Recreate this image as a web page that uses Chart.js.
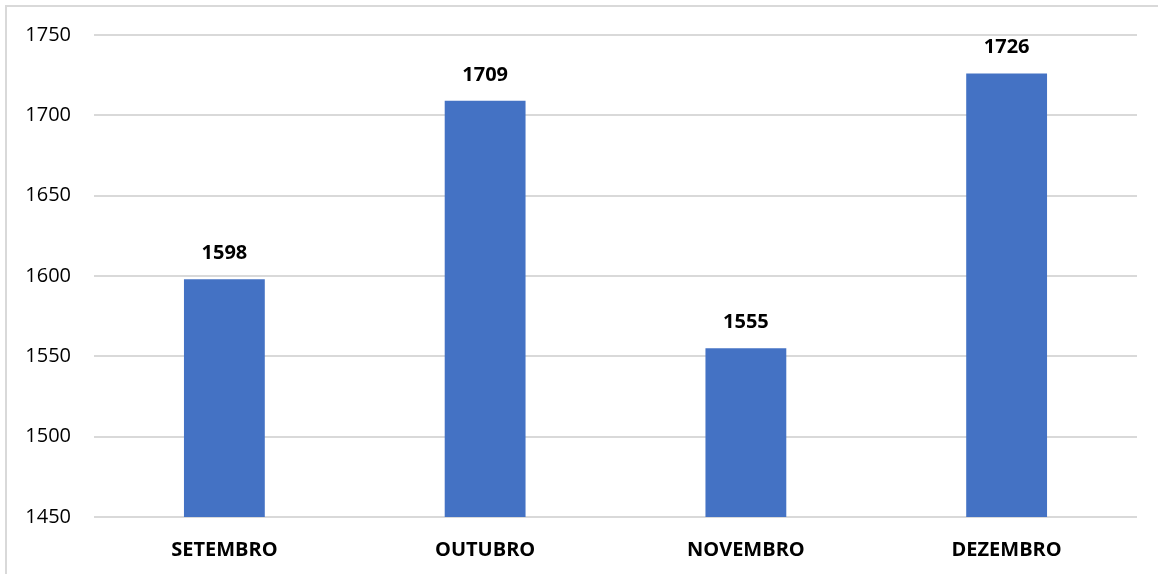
<!DOCTYPE html>
<html>
<head>
<meta charset="utf-8">
<script src="https://cdn.jsdelivr.net/npm/chart.js@4"></script>
<style>
  html, body { margin: 0; padding: 0; background: #fff; }
  #wrap { position: relative; width: 1158px; height: 574px; }
  #frame { position: absolute; left: 5px; top: 5px; width: 1160px; height: 580px;
           border-left: 2px solid #d9d9d9; border-top: 2px solid #d9d9d9; }
  canvas { position: absolute; left: 0; top: 0; }
</style>
</head>
<body>
<div id="wrap">
  <div id="frame"></div>
  <canvas id="barChart" width="1158" height="574"></canvas>
</div>
<script>
const months = ["SETEMBRO", "OUTUBRO", "NOVEMBRO", "DEZEMBRO"];
const totals = [1598, 1709, 1555, 1726];
const yMin = 1450;
const yMax = 1750;
const yStep = 50;

// labels drawn above each bar
const barValues = {
  id: "barValues",
  afterDatasetsDraw(chart) {
    const { ctx } = chart;
    const meta = chart.getDatasetMeta(0);
    ctx.save();
    ctx.font = "bold 20px 'Open Sans', sans-serif";
    ctx.fillStyle = "#000";
    ctx.textAlign = "center";
    ctx.textBaseline = "middle";
    meta.data.forEach((bar, i) => {
      ctx.fillText(totals[i], bar.x, bar.y - 26);
    });
    ctx.restore();
  }
};

const ctx = document.getElementById("barChart");
new Chart(ctx, {
  type: "bar",
  data: {
    labels: months,
    datasets: [{
      data: totals,
      backgroundColor: "#4472C4",
      barPercentage: 0.31,
      categoryPercentage: 1
    }]
  },
  options: {
    responsive: false,
    animation: false,
    layout: { padding: { left: 0, top: 34, right: 21, bottom: 0 } },
    plugins: { legend: { display: false }, tooltip: { enabled: false } },
    scales: {
      x: {
        grid: { display: false },
        border: { display: false },
        ticks: {
          color: "#000",
          font: { family: "'Open Sans', sans-serif", size: 20, weight: "bold" },
          padding: 13
        },
        afterFit(scale) { scale.height = 57; }
      },
      y: {
        min: yMin,
        max: yMax,
        ticks: {
          stepSize: yStep,
          color: "#000",
          padding: 23,
          font: { family: "'Open Sans', sans-serif", size: 20 },
          callback: (v) => String(v)
        },
        grid: { color: "#d9d9d9", lineWidth: 2, drawTicks: false },
        border: { display: false },
        afterFit(scale) { scale.width = 94; }
      }
    }
  },
  plugins: [barValues]
});
</script>
</body>
</html>
